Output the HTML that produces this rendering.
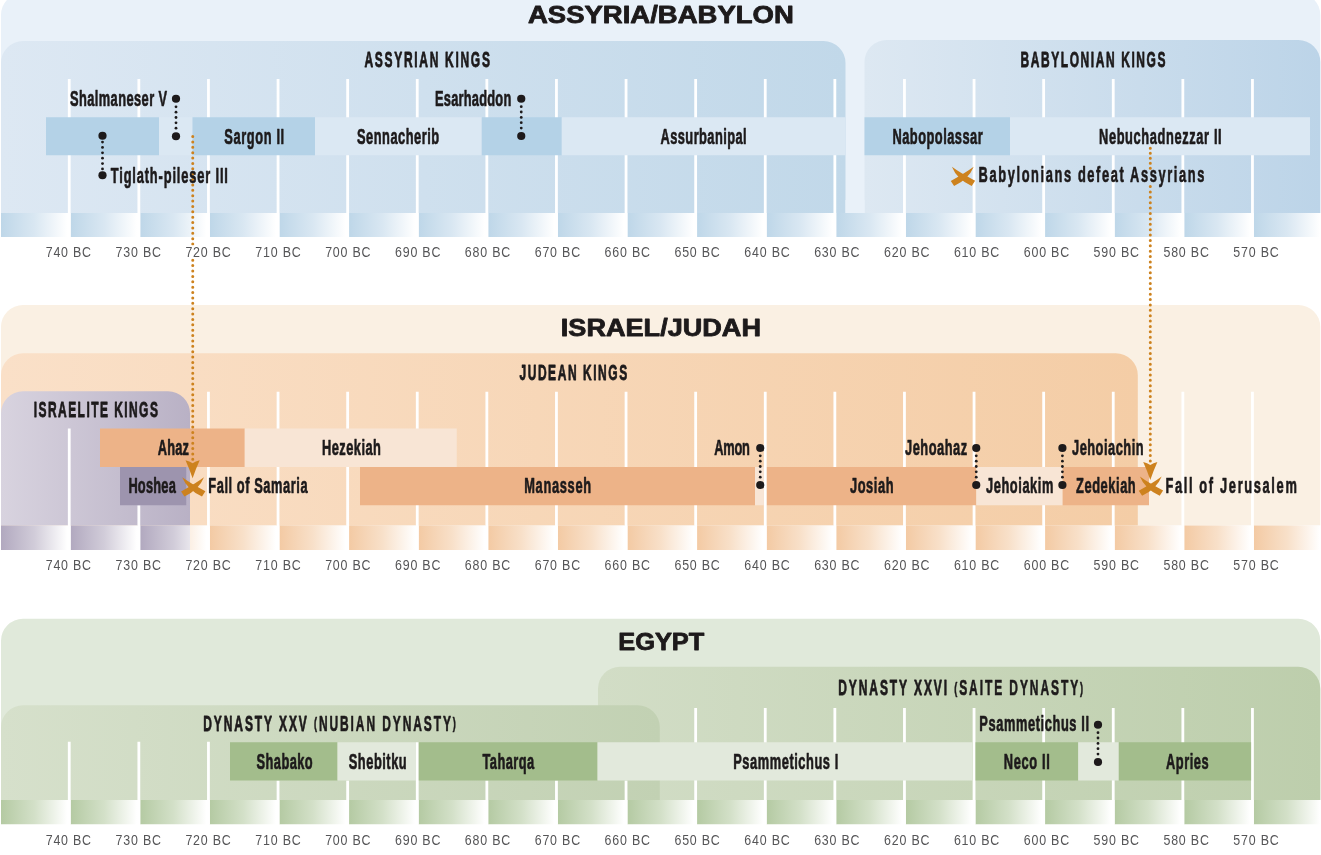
<!DOCTYPE html>
<html lang="en"><head><meta charset="utf-8"><title>Timeline: Assyria/Babylon, Israel/Judah, Egypt</title>
<style>
html,body{margin:0;padding:0;background:#fff;}
body{width:1321px;height:855px;overflow:hidden;font-family:"Liberation Sans",sans-serif;}
svg{display:block;will-change:transform;}
text{font-family:"Liberation Sans",sans-serif;}
.c{font-weight:bold;fill:#1d1a1b;stroke:#1d1a1b;stroke-width:0.55px;stroke-linejoin:round;vector-effect:non-scaling-stroke;}
.h{stroke-width:0.65px;}
.t{font-weight:bold;fill:#1d1a1b;stroke:#1d1a1b;stroke-width:0.8px;stroke-linejoin:round;}
.p{font-size:16.5px;}
.yl{font-size:14.1px;fill:#555557;}
.dl{stroke:#1d1a1b;stroke-width:2.5;stroke-dasharray:2.5 2.9;}
.ol{stroke:#cd821e;stroke-width:3;stroke-linecap:round;fill:none;}
</style></head>
<body>
<svg width="1321" height="855" viewBox="0 0 1321 855">
<defs><linearGradient id="gA" gradientUnits="userSpaceOnUse" x1="1" y1="0" x2="845.5" y2="0"><stop offset="0" stop-color="#dde8f3"/><stop offset="1" stop-color="#c1d8e9"/></linearGradient>
<linearGradient id="gB" gradientUnits="userSpaceOnUse" x1="864.5" y1="0" x2="1321" y2="0"><stop offset="0" stop-color="#dde8f2"/><stop offset="1" stop-color="#bcd4e8"/></linearGradient>
<linearGradient id="s1_0" gradientUnits="userSpaceOnUse" x1="-0.35" y1="0" x2="69.25" y2="0"><stop offset="0" stop-color="#bdd6e8"/><stop offset="0.5" stop-color="#d9e7f2"/><stop offset="0.97" stop-color="#ffffff"/><stop offset="1" stop-color="#ffffff"/></linearGradient>
<linearGradient id="s1_1" gradientUnits="userSpaceOnUse" x1="69.25" y1="0" x2="138.85" y2="0"><stop offset="0" stop-color="#bdd6e8"/><stop offset="0.5" stop-color="#d9e7f2"/><stop offset="0.97" stop-color="#ffffff"/><stop offset="1" stop-color="#ffffff"/></linearGradient>
<linearGradient id="s1_2" gradientUnits="userSpaceOnUse" x1="138.85" y1="0" x2="208.45" y2="0"><stop offset="0" stop-color="#bdd6e8"/><stop offset="0.5" stop-color="#d9e7f2"/><stop offset="0.97" stop-color="#ffffff"/><stop offset="1" stop-color="#ffffff"/></linearGradient>
<linearGradient id="s1_3" gradientUnits="userSpaceOnUse" x1="208.45" y1="0" x2="278.05" y2="0"><stop offset="0" stop-color="#bdd6e8"/><stop offset="0.5" stop-color="#d9e7f2"/><stop offset="0.97" stop-color="#ffffff"/><stop offset="1" stop-color="#ffffff"/></linearGradient>
<linearGradient id="s1_4" gradientUnits="userSpaceOnUse" x1="278.05" y1="0" x2="347.65" y2="0"><stop offset="0" stop-color="#bdd6e8"/><stop offset="0.5" stop-color="#d9e7f2"/><stop offset="0.97" stop-color="#ffffff"/><stop offset="1" stop-color="#ffffff"/></linearGradient>
<linearGradient id="s1_5" gradientUnits="userSpaceOnUse" x1="347.65" y1="0" x2="417.25" y2="0"><stop offset="0" stop-color="#bdd6e8"/><stop offset="0.5" stop-color="#d9e7f2"/><stop offset="0.97" stop-color="#ffffff"/><stop offset="1" stop-color="#ffffff"/></linearGradient>
<linearGradient id="s1_6" gradientUnits="userSpaceOnUse" x1="417.25" y1="0" x2="486.85" y2="0"><stop offset="0" stop-color="#bdd6e8"/><stop offset="0.5" stop-color="#d9e7f2"/><stop offset="0.97" stop-color="#ffffff"/><stop offset="1" stop-color="#ffffff"/></linearGradient>
<linearGradient id="s1_7" gradientUnits="userSpaceOnUse" x1="486.85" y1="0" x2="556.45" y2="0"><stop offset="0" stop-color="#bdd6e8"/><stop offset="0.5" stop-color="#d9e7f2"/><stop offset="0.97" stop-color="#ffffff"/><stop offset="1" stop-color="#ffffff"/></linearGradient>
<linearGradient id="s1_8" gradientUnits="userSpaceOnUse" x1="556.45" y1="0" x2="626.05" y2="0"><stop offset="0" stop-color="#bdd6e8"/><stop offset="0.5" stop-color="#d9e7f2"/><stop offset="0.97" stop-color="#ffffff"/><stop offset="1" stop-color="#ffffff"/></linearGradient>
<linearGradient id="s1_9" gradientUnits="userSpaceOnUse" x1="626.05" y1="0" x2="695.65" y2="0"><stop offset="0" stop-color="#bdd6e8"/><stop offset="0.5" stop-color="#d9e7f2"/><stop offset="0.97" stop-color="#ffffff"/><stop offset="1" stop-color="#ffffff"/></linearGradient>
<linearGradient id="s1_10" gradientUnits="userSpaceOnUse" x1="695.65" y1="0" x2="765.25" y2="0"><stop offset="0" stop-color="#bdd6e8"/><stop offset="0.5" stop-color="#d9e7f2"/><stop offset="0.97" stop-color="#ffffff"/><stop offset="1" stop-color="#ffffff"/></linearGradient>
<linearGradient id="s1_11" gradientUnits="userSpaceOnUse" x1="765.25" y1="0" x2="834.85" y2="0"><stop offset="0" stop-color="#bdd6e8"/><stop offset="0.5" stop-color="#d9e7f2"/><stop offset="0.97" stop-color="#ffffff"/><stop offset="1" stop-color="#ffffff"/></linearGradient>
<linearGradient id="s1_12" gradientUnits="userSpaceOnUse" x1="834.85" y1="0" x2="904.45" y2="0"><stop offset="0" stop-color="#bdd6e8"/><stop offset="0.5" stop-color="#d9e7f2"/><stop offset="0.97" stop-color="#ffffff"/><stop offset="1" stop-color="#ffffff"/></linearGradient>
<linearGradient id="s1_13" gradientUnits="userSpaceOnUse" x1="904.45" y1="0" x2="974.05" y2="0"><stop offset="0" stop-color="#bdd6e8"/><stop offset="0.5" stop-color="#d9e7f2"/><stop offset="0.97" stop-color="#ffffff"/><stop offset="1" stop-color="#ffffff"/></linearGradient>
<linearGradient id="s1_14" gradientUnits="userSpaceOnUse" x1="974.05" y1="0" x2="1043.65" y2="0"><stop offset="0" stop-color="#bdd6e8"/><stop offset="0.5" stop-color="#d9e7f2"/><stop offset="0.97" stop-color="#ffffff"/><stop offset="1" stop-color="#ffffff"/></linearGradient>
<linearGradient id="s1_15" gradientUnits="userSpaceOnUse" x1="1043.65" y1="0" x2="1113.25" y2="0"><stop offset="0" stop-color="#bdd6e8"/><stop offset="0.5" stop-color="#d9e7f2"/><stop offset="0.97" stop-color="#ffffff"/><stop offset="1" stop-color="#ffffff"/></linearGradient>
<linearGradient id="s1_16" gradientUnits="userSpaceOnUse" x1="1113.25" y1="0" x2="1182.85" y2="0"><stop offset="0" stop-color="#bdd6e8"/><stop offset="0.5" stop-color="#d9e7f2"/><stop offset="0.97" stop-color="#ffffff"/><stop offset="1" stop-color="#ffffff"/></linearGradient>
<linearGradient id="s1_17" gradientUnits="userSpaceOnUse" x1="1182.85" y1="0" x2="1252.45" y2="0"><stop offset="0" stop-color="#bdd6e8"/><stop offset="0.5" stop-color="#d9e7f2"/><stop offset="0.97" stop-color="#ffffff"/><stop offset="1" stop-color="#ffffff"/></linearGradient>
<linearGradient id="s1_18" gradientUnits="userSpaceOnUse" x1="1252.45" y1="0" x2="1322.05" y2="0"><stop offset="0" stop-color="#bdd6e8"/><stop offset="0.5" stop-color="#d9e7f2"/><stop offset="0.97" stop-color="#ffffff"/><stop offset="1" stop-color="#ffffff"/></linearGradient>
<linearGradient id="gJ" gradientUnits="userSpaceOnUse" x1="1" y1="0" x2="1137.8" y2="0"><stop offset="0" stop-color="#fae0c8"/><stop offset="1" stop-color="#f4cda6"/></linearGradient>
<linearGradient id="gI" gradientUnits="userSpaceOnUse" x1="1" y1="0" x2="190" y2="0"><stop offset="0" stop-color="#d8d3df"/><stop offset="1" stop-color="#b9b1c5"/></linearGradient>
<linearGradient id="s2_0" gradientUnits="userSpaceOnUse" x1="-0.35" y1="0" x2="69.25" y2="0"><stop offset="0" stop-color="#f3c9a2"/><stop offset="0.5" stop-color="#f8e0c9"/><stop offset="0.97" stop-color="#ffffff"/><stop offset="1" stop-color="#ffffff"/></linearGradient>
<linearGradient id="s2_1" gradientUnits="userSpaceOnUse" x1="69.25" y1="0" x2="138.85" y2="0"><stop offset="0" stop-color="#f3c9a2"/><stop offset="0.5" stop-color="#f8e0c9"/><stop offset="0.97" stop-color="#ffffff"/><stop offset="1" stop-color="#ffffff"/></linearGradient>
<linearGradient id="s2_2" gradientUnits="userSpaceOnUse" x1="138.85" y1="0" x2="208.45" y2="0"><stop offset="0" stop-color="#f3c9a2"/><stop offset="0.5" stop-color="#f8e0c9"/><stop offset="0.97" stop-color="#ffffff"/><stop offset="1" stop-color="#ffffff"/></linearGradient>
<linearGradient id="s2_3" gradientUnits="userSpaceOnUse" x1="208.45" y1="0" x2="278.05" y2="0"><stop offset="0" stop-color="#f3c9a2"/><stop offset="0.5" stop-color="#f8e0c9"/><stop offset="0.97" stop-color="#ffffff"/><stop offset="1" stop-color="#ffffff"/></linearGradient>
<linearGradient id="s2_4" gradientUnits="userSpaceOnUse" x1="278.05" y1="0" x2="347.65" y2="0"><stop offset="0" stop-color="#f3c9a2"/><stop offset="0.5" stop-color="#f8e0c9"/><stop offset="0.97" stop-color="#ffffff"/><stop offset="1" stop-color="#ffffff"/></linearGradient>
<linearGradient id="s2_5" gradientUnits="userSpaceOnUse" x1="347.65" y1="0" x2="417.25" y2="0"><stop offset="0" stop-color="#f3c9a2"/><stop offset="0.5" stop-color="#f8e0c9"/><stop offset="0.97" stop-color="#ffffff"/><stop offset="1" stop-color="#ffffff"/></linearGradient>
<linearGradient id="s2_6" gradientUnits="userSpaceOnUse" x1="417.25" y1="0" x2="486.85" y2="0"><stop offset="0" stop-color="#f3c9a2"/><stop offset="0.5" stop-color="#f8e0c9"/><stop offset="0.97" stop-color="#ffffff"/><stop offset="1" stop-color="#ffffff"/></linearGradient>
<linearGradient id="s2_7" gradientUnits="userSpaceOnUse" x1="486.85" y1="0" x2="556.45" y2="0"><stop offset="0" stop-color="#f3c9a2"/><stop offset="0.5" stop-color="#f8e0c9"/><stop offset="0.97" stop-color="#ffffff"/><stop offset="1" stop-color="#ffffff"/></linearGradient>
<linearGradient id="s2_8" gradientUnits="userSpaceOnUse" x1="556.45" y1="0" x2="626.05" y2="0"><stop offset="0" stop-color="#f3c9a2"/><stop offset="0.5" stop-color="#f8e0c9"/><stop offset="0.97" stop-color="#ffffff"/><stop offset="1" stop-color="#ffffff"/></linearGradient>
<linearGradient id="s2_9" gradientUnits="userSpaceOnUse" x1="626.05" y1="0" x2="695.65" y2="0"><stop offset="0" stop-color="#f3c9a2"/><stop offset="0.5" stop-color="#f8e0c9"/><stop offset="0.97" stop-color="#ffffff"/><stop offset="1" stop-color="#ffffff"/></linearGradient>
<linearGradient id="s2_10" gradientUnits="userSpaceOnUse" x1="695.65" y1="0" x2="765.25" y2="0"><stop offset="0" stop-color="#f3c9a2"/><stop offset="0.5" stop-color="#f8e0c9"/><stop offset="0.97" stop-color="#ffffff"/><stop offset="1" stop-color="#ffffff"/></linearGradient>
<linearGradient id="s2_11" gradientUnits="userSpaceOnUse" x1="765.25" y1="0" x2="834.85" y2="0"><stop offset="0" stop-color="#f3c9a2"/><stop offset="0.5" stop-color="#f8e0c9"/><stop offset="0.97" stop-color="#ffffff"/><stop offset="1" stop-color="#ffffff"/></linearGradient>
<linearGradient id="s2_12" gradientUnits="userSpaceOnUse" x1="834.85" y1="0" x2="904.45" y2="0"><stop offset="0" stop-color="#f3c9a2"/><stop offset="0.5" stop-color="#f8e0c9"/><stop offset="0.97" stop-color="#ffffff"/><stop offset="1" stop-color="#ffffff"/></linearGradient>
<linearGradient id="s2_13" gradientUnits="userSpaceOnUse" x1="904.45" y1="0" x2="974.05" y2="0"><stop offset="0" stop-color="#f3c9a2"/><stop offset="0.5" stop-color="#f8e0c9"/><stop offset="0.97" stop-color="#ffffff"/><stop offset="1" stop-color="#ffffff"/></linearGradient>
<linearGradient id="s2_14" gradientUnits="userSpaceOnUse" x1="974.05" y1="0" x2="1043.65" y2="0"><stop offset="0" stop-color="#f3c9a2"/><stop offset="0.5" stop-color="#f8e0c9"/><stop offset="0.97" stop-color="#ffffff"/><stop offset="1" stop-color="#ffffff"/></linearGradient>
<linearGradient id="s2_15" gradientUnits="userSpaceOnUse" x1="1043.65" y1="0" x2="1113.25" y2="0"><stop offset="0" stop-color="#f3c9a2"/><stop offset="0.5" stop-color="#f8e0c9"/><stop offset="0.97" stop-color="#ffffff"/><stop offset="1" stop-color="#ffffff"/></linearGradient>
<linearGradient id="s2_16" gradientUnits="userSpaceOnUse" x1="1113.25" y1="0" x2="1182.85" y2="0"><stop offset="0" stop-color="#f3c9a2"/><stop offset="0.5" stop-color="#f8e0c9"/><stop offset="0.97" stop-color="#ffffff"/><stop offset="1" stop-color="#ffffff"/></linearGradient>
<linearGradient id="s2_17" gradientUnits="userSpaceOnUse" x1="1182.85" y1="0" x2="1252.45" y2="0"><stop offset="0" stop-color="#f3c9a2"/><stop offset="0.5" stop-color="#f8e0c9"/><stop offset="0.97" stop-color="#ffffff"/><stop offset="1" stop-color="#ffffff"/></linearGradient>
<linearGradient id="s2_18" gradientUnits="userSpaceOnUse" x1="1252.45" y1="0" x2="1322.05" y2="0"><stop offset="0" stop-color="#f3c9a2"/><stop offset="0.5" stop-color="#f8e0c9"/><stop offset="0.97" stop-color="#ffffff"/><stop offset="1" stop-color="#ffffff"/></linearGradient>
<linearGradient id="s2p_0" gradientUnits="userSpaceOnUse" x1="-0.35" y1="0" x2="69.25" y2="0"><stop offset="0" stop-color="#b0a7be"/><stop offset="0.5" stop-color="#d1ccd9"/><stop offset="0.97" stop-color="#ffffff"/><stop offset="1" stop-color="#ffffff"/></linearGradient>
<linearGradient id="s2p_1" gradientUnits="userSpaceOnUse" x1="69.25" y1="0" x2="138.85" y2="0"><stop offset="0" stop-color="#b0a7be"/><stop offset="0.5" stop-color="#d1ccd9"/><stop offset="0.97" stop-color="#ffffff"/><stop offset="1" stop-color="#ffffff"/></linearGradient>
<linearGradient id="s2p_2" gradientUnits="userSpaceOnUse" x1="138.85" y1="0" x2="208.45" y2="0"><stop offset="0" stop-color="#b0a7be"/><stop offset="0.5" stop-color="#d1ccd9"/><stop offset="0.97" stop-color="#ffffff"/><stop offset="1" stop-color="#ffffff"/></linearGradient>
<linearGradient id="s2p_3" gradientUnits="userSpaceOnUse" x1="208.45" y1="0" x2="278.05" y2="0"><stop offset="0" stop-color="#b0a7be"/><stop offset="0.5" stop-color="#d1ccd9"/><stop offset="0.97" stop-color="#ffffff"/><stop offset="1" stop-color="#ffffff"/></linearGradient>
<linearGradient id="s2p_4" gradientUnits="userSpaceOnUse" x1="278.05" y1="0" x2="347.65" y2="0"><stop offset="0" stop-color="#b0a7be"/><stop offset="0.5" stop-color="#d1ccd9"/><stop offset="0.97" stop-color="#ffffff"/><stop offset="1" stop-color="#ffffff"/></linearGradient>
<linearGradient id="s2p_5" gradientUnits="userSpaceOnUse" x1="347.65" y1="0" x2="417.25" y2="0"><stop offset="0" stop-color="#b0a7be"/><stop offset="0.5" stop-color="#d1ccd9"/><stop offset="0.97" stop-color="#ffffff"/><stop offset="1" stop-color="#ffffff"/></linearGradient>
<linearGradient id="s2p_6" gradientUnits="userSpaceOnUse" x1="417.25" y1="0" x2="486.85" y2="0"><stop offset="0" stop-color="#b0a7be"/><stop offset="0.5" stop-color="#d1ccd9"/><stop offset="0.97" stop-color="#ffffff"/><stop offset="1" stop-color="#ffffff"/></linearGradient>
<linearGradient id="s2p_7" gradientUnits="userSpaceOnUse" x1="486.85" y1="0" x2="556.45" y2="0"><stop offset="0" stop-color="#b0a7be"/><stop offset="0.5" stop-color="#d1ccd9"/><stop offset="0.97" stop-color="#ffffff"/><stop offset="1" stop-color="#ffffff"/></linearGradient>
<linearGradient id="s2p_8" gradientUnits="userSpaceOnUse" x1="556.45" y1="0" x2="626.05" y2="0"><stop offset="0" stop-color="#b0a7be"/><stop offset="0.5" stop-color="#d1ccd9"/><stop offset="0.97" stop-color="#ffffff"/><stop offset="1" stop-color="#ffffff"/></linearGradient>
<linearGradient id="s2p_9" gradientUnits="userSpaceOnUse" x1="626.05" y1="0" x2="695.65" y2="0"><stop offset="0" stop-color="#b0a7be"/><stop offset="0.5" stop-color="#d1ccd9"/><stop offset="0.97" stop-color="#ffffff"/><stop offset="1" stop-color="#ffffff"/></linearGradient>
<linearGradient id="s2p_10" gradientUnits="userSpaceOnUse" x1="695.65" y1="0" x2="765.25" y2="0"><stop offset="0" stop-color="#b0a7be"/><stop offset="0.5" stop-color="#d1ccd9"/><stop offset="0.97" stop-color="#ffffff"/><stop offset="1" stop-color="#ffffff"/></linearGradient>
<linearGradient id="s2p_11" gradientUnits="userSpaceOnUse" x1="765.25" y1="0" x2="834.85" y2="0"><stop offset="0" stop-color="#b0a7be"/><stop offset="0.5" stop-color="#d1ccd9"/><stop offset="0.97" stop-color="#ffffff"/><stop offset="1" stop-color="#ffffff"/></linearGradient>
<linearGradient id="s2p_12" gradientUnits="userSpaceOnUse" x1="834.85" y1="0" x2="904.45" y2="0"><stop offset="0" stop-color="#b0a7be"/><stop offset="0.5" stop-color="#d1ccd9"/><stop offset="0.97" stop-color="#ffffff"/><stop offset="1" stop-color="#ffffff"/></linearGradient>
<linearGradient id="s2p_13" gradientUnits="userSpaceOnUse" x1="904.45" y1="0" x2="974.05" y2="0"><stop offset="0" stop-color="#b0a7be"/><stop offset="0.5" stop-color="#d1ccd9"/><stop offset="0.97" stop-color="#ffffff"/><stop offset="1" stop-color="#ffffff"/></linearGradient>
<linearGradient id="s2p_14" gradientUnits="userSpaceOnUse" x1="974.05" y1="0" x2="1043.65" y2="0"><stop offset="0" stop-color="#b0a7be"/><stop offset="0.5" stop-color="#d1ccd9"/><stop offset="0.97" stop-color="#ffffff"/><stop offset="1" stop-color="#ffffff"/></linearGradient>
<linearGradient id="s2p_15" gradientUnits="userSpaceOnUse" x1="1043.65" y1="0" x2="1113.25" y2="0"><stop offset="0" stop-color="#b0a7be"/><stop offset="0.5" stop-color="#d1ccd9"/><stop offset="0.97" stop-color="#ffffff"/><stop offset="1" stop-color="#ffffff"/></linearGradient>
<linearGradient id="s2p_16" gradientUnits="userSpaceOnUse" x1="1113.25" y1="0" x2="1182.85" y2="0"><stop offset="0" stop-color="#b0a7be"/><stop offset="0.5" stop-color="#d1ccd9"/><stop offset="0.97" stop-color="#ffffff"/><stop offset="1" stop-color="#ffffff"/></linearGradient>
<linearGradient id="s2p_17" gradientUnits="userSpaceOnUse" x1="1182.85" y1="0" x2="1252.45" y2="0"><stop offset="0" stop-color="#b0a7be"/><stop offset="0.5" stop-color="#d1ccd9"/><stop offset="0.97" stop-color="#ffffff"/><stop offset="1" stop-color="#ffffff"/></linearGradient>
<linearGradient id="s2p_18" gradientUnits="userSpaceOnUse" x1="1252.45" y1="0" x2="1322.05" y2="0"><stop offset="0" stop-color="#b0a7be"/><stop offset="0.5" stop-color="#d1ccd9"/><stop offset="0.97" stop-color="#ffffff"/><stop offset="1" stop-color="#ffffff"/></linearGradient>
<linearGradient id="gS" gradientUnits="userSpaceOnUse" x1="598" y1="0" x2="1321" y2="0"><stop offset="0" stop-color="#d2ddc6"/><stop offset="1" stop-color="#bdceac"/></linearGradient>
<linearGradient id="gN" gradientUnits="userSpaceOnUse" x1="1" y1="0" x2="659.8" y2="0"><stop offset="0" stop-color="#d6e0cb"/><stop offset="1" stop-color="#c2d1b3"/></linearGradient>
<linearGradient id="s3_0" gradientUnits="userSpaceOnUse" x1="-0.35" y1="0" x2="69.25" y2="0"><stop offset="0" stop-color="#b3c9a1"/><stop offset="0.5" stop-color="#d3e0c8"/><stop offset="0.97" stop-color="#ffffff"/><stop offset="1" stop-color="#ffffff"/></linearGradient>
<linearGradient id="s3_1" gradientUnits="userSpaceOnUse" x1="69.25" y1="0" x2="138.85" y2="0"><stop offset="0" stop-color="#b3c9a1"/><stop offset="0.5" stop-color="#d3e0c8"/><stop offset="0.97" stop-color="#ffffff"/><stop offset="1" stop-color="#ffffff"/></linearGradient>
<linearGradient id="s3_2" gradientUnits="userSpaceOnUse" x1="138.85" y1="0" x2="208.45" y2="0"><stop offset="0" stop-color="#b3c9a1"/><stop offset="0.5" stop-color="#d3e0c8"/><stop offset="0.97" stop-color="#ffffff"/><stop offset="1" stop-color="#ffffff"/></linearGradient>
<linearGradient id="s3_3" gradientUnits="userSpaceOnUse" x1="208.45" y1="0" x2="278.05" y2="0"><stop offset="0" stop-color="#b3c9a1"/><stop offset="0.5" stop-color="#d3e0c8"/><stop offset="0.97" stop-color="#ffffff"/><stop offset="1" stop-color="#ffffff"/></linearGradient>
<linearGradient id="s3_4" gradientUnits="userSpaceOnUse" x1="278.05" y1="0" x2="347.65" y2="0"><stop offset="0" stop-color="#b3c9a1"/><stop offset="0.5" stop-color="#d3e0c8"/><stop offset="0.97" stop-color="#ffffff"/><stop offset="1" stop-color="#ffffff"/></linearGradient>
<linearGradient id="s3_5" gradientUnits="userSpaceOnUse" x1="347.65" y1="0" x2="417.25" y2="0"><stop offset="0" stop-color="#b3c9a1"/><stop offset="0.5" stop-color="#d3e0c8"/><stop offset="0.97" stop-color="#ffffff"/><stop offset="1" stop-color="#ffffff"/></linearGradient>
<linearGradient id="s3_6" gradientUnits="userSpaceOnUse" x1="417.25" y1="0" x2="486.85" y2="0"><stop offset="0" stop-color="#b3c9a1"/><stop offset="0.5" stop-color="#d3e0c8"/><stop offset="0.97" stop-color="#ffffff"/><stop offset="1" stop-color="#ffffff"/></linearGradient>
<linearGradient id="s3_7" gradientUnits="userSpaceOnUse" x1="486.85" y1="0" x2="556.45" y2="0"><stop offset="0" stop-color="#b3c9a1"/><stop offset="0.5" stop-color="#d3e0c8"/><stop offset="0.97" stop-color="#ffffff"/><stop offset="1" stop-color="#ffffff"/></linearGradient>
<linearGradient id="s3_8" gradientUnits="userSpaceOnUse" x1="556.45" y1="0" x2="626.05" y2="0"><stop offset="0" stop-color="#b3c9a1"/><stop offset="0.5" stop-color="#d3e0c8"/><stop offset="0.97" stop-color="#ffffff"/><stop offset="1" stop-color="#ffffff"/></linearGradient>
<linearGradient id="s3_9" gradientUnits="userSpaceOnUse" x1="626.05" y1="0" x2="695.65" y2="0"><stop offset="0" stop-color="#b3c9a1"/><stop offset="0.5" stop-color="#d3e0c8"/><stop offset="0.97" stop-color="#ffffff"/><stop offset="1" stop-color="#ffffff"/></linearGradient>
<linearGradient id="s3_10" gradientUnits="userSpaceOnUse" x1="695.65" y1="0" x2="765.25" y2="0"><stop offset="0" stop-color="#b3c9a1"/><stop offset="0.5" stop-color="#d3e0c8"/><stop offset="0.97" stop-color="#ffffff"/><stop offset="1" stop-color="#ffffff"/></linearGradient>
<linearGradient id="s3_11" gradientUnits="userSpaceOnUse" x1="765.25" y1="0" x2="834.85" y2="0"><stop offset="0" stop-color="#b3c9a1"/><stop offset="0.5" stop-color="#d3e0c8"/><stop offset="0.97" stop-color="#ffffff"/><stop offset="1" stop-color="#ffffff"/></linearGradient>
<linearGradient id="s3_12" gradientUnits="userSpaceOnUse" x1="834.85" y1="0" x2="904.45" y2="0"><stop offset="0" stop-color="#b3c9a1"/><stop offset="0.5" stop-color="#d3e0c8"/><stop offset="0.97" stop-color="#ffffff"/><stop offset="1" stop-color="#ffffff"/></linearGradient>
<linearGradient id="s3_13" gradientUnits="userSpaceOnUse" x1="904.45" y1="0" x2="974.05" y2="0"><stop offset="0" stop-color="#b3c9a1"/><stop offset="0.5" stop-color="#d3e0c8"/><stop offset="0.97" stop-color="#ffffff"/><stop offset="1" stop-color="#ffffff"/></linearGradient>
<linearGradient id="s3_14" gradientUnits="userSpaceOnUse" x1="974.05" y1="0" x2="1043.65" y2="0"><stop offset="0" stop-color="#b3c9a1"/><stop offset="0.5" stop-color="#d3e0c8"/><stop offset="0.97" stop-color="#ffffff"/><stop offset="1" stop-color="#ffffff"/></linearGradient>
<linearGradient id="s3_15" gradientUnits="userSpaceOnUse" x1="1043.65" y1="0" x2="1113.25" y2="0"><stop offset="0" stop-color="#b3c9a1"/><stop offset="0.5" stop-color="#d3e0c8"/><stop offset="0.97" stop-color="#ffffff"/><stop offset="1" stop-color="#ffffff"/></linearGradient>
<linearGradient id="s3_16" gradientUnits="userSpaceOnUse" x1="1113.25" y1="0" x2="1182.85" y2="0"><stop offset="0" stop-color="#b3c9a1"/><stop offset="0.5" stop-color="#d3e0c8"/><stop offset="0.97" stop-color="#ffffff"/><stop offset="1" stop-color="#ffffff"/></linearGradient>
<linearGradient id="s3_17" gradientUnits="userSpaceOnUse" x1="1182.85" y1="0" x2="1252.45" y2="0"><stop offset="0" stop-color="#b3c9a1"/><stop offset="0.5" stop-color="#d3e0c8"/><stop offset="0.97" stop-color="#ffffff"/><stop offset="1" stop-color="#ffffff"/></linearGradient>
<linearGradient id="s3_18" gradientUnits="userSpaceOnUse" x1="1252.45" y1="0" x2="1322.05" y2="0"><stop offset="0" stop-color="#b3c9a1"/><stop offset="0.5" stop-color="#d3e0c8"/><stop offset="0.97" stop-color="#ffffff"/><stop offset="1" stop-color="#ffffff"/></linearGradient></defs>
<path d="M1,213 L1,15 A22,22 0 0 1 23,-7 L1298.3,-7 A22,22 0 0 1 1320.3,15 L1320.3,213 Z" fill="#e9f1f9"/>
<path d="M1,213 L1,63 A22,22 0 0 1 23,41 L823.5,41 A22,22 0 0 1 845.5,63 L845.5,213 Z" fill="url(#gA)"/>
<path d="M864.5,213 L864.5,62 A22,22 0 0 1 886.5,40 L1298.3,40 A22,22 0 0 1 1320.3,62 L1320.3,213 Z" fill="url(#gB)"/>
<rect x="845.5" y="200" width="19" height="13" fill="#e9f1f9"/>
<rect x="1" y="213" width="66.85" height="24" fill="url(#s1_0)"/>
<rect x="70.65" y="213" width="66.8" height="24" fill="url(#s1_1)"/>
<rect x="140.25" y="213" width="66.8" height="24" fill="url(#s1_2)"/>
<rect x="209.85" y="213" width="66.8" height="24" fill="url(#s1_3)"/>
<rect x="279.45" y="213" width="66.8" height="24" fill="url(#s1_4)"/>
<rect x="349.05" y="213" width="66.8" height="24" fill="url(#s1_5)"/>
<rect x="418.65" y="213" width="66.8" height="24" fill="url(#s1_6)"/>
<rect x="488.25" y="213" width="66.8" height="24" fill="url(#s1_7)"/>
<rect x="557.85" y="213" width="66.8" height="24" fill="url(#s1_8)"/>
<rect x="627.45" y="213" width="66.8" height="24" fill="url(#s1_9)"/>
<rect x="697.05" y="213" width="66.8" height="24" fill="url(#s1_10)"/>
<rect x="766.65" y="213" width="66.8" height="24" fill="url(#s1_11)"/>
<rect x="836.25" y="213" width="66.8" height="24" fill="url(#s1_12)"/>
<rect x="905.85" y="213" width="66.8" height="24" fill="url(#s1_13)"/>
<rect x="975.45" y="213" width="66.8" height="24" fill="url(#s1_14)"/>
<rect x="1045.05" y="213" width="66.8" height="24" fill="url(#s1_15)"/>
<rect x="1114.65" y="213" width="66.8" height="24" fill="url(#s1_16)"/>
<rect x="1184.25" y="213" width="66.8" height="24" fill="url(#s1_17)"/>
<rect x="1253.85" y="213" width="66.45" height="24" fill="url(#s1_18)"/>
<rect x="67.85" y="79" width="2.8" height="158" fill="#fff"/>
<rect x="137.45" y="79" width="2.8" height="158" fill="#fff"/>
<rect x="207.05" y="79" width="2.8" height="158" fill="#fff"/>
<rect x="276.65" y="79" width="2.8" height="158" fill="#fff"/>
<rect x="346.25" y="79" width="2.8" height="158" fill="#fff"/>
<rect x="415.85" y="79" width="2.8" height="158" fill="#fff"/>
<rect x="485.45" y="79" width="2.8" height="158" fill="#fff"/>
<rect x="555.05" y="79" width="2.8" height="158" fill="#fff"/>
<rect x="624.65" y="79" width="2.8" height="158" fill="#fff"/>
<rect x="694.25" y="79" width="2.8" height="158" fill="#fff"/>
<rect x="763.85" y="79" width="2.8" height="158" fill="#fff"/>
<rect x="833.45" y="79" width="2.8" height="158" fill="#fff"/>
<rect x="903.05" y="79" width="2.8" height="158" fill="#fff"/>
<rect x="972.65" y="79" width="2.8" height="158" fill="#fff"/>
<rect x="1042.25" y="79" width="2.8" height="158" fill="#fff"/>
<rect x="1111.85" y="79" width="2.8" height="158" fill="#fff"/>
<rect x="1181.45" y="79" width="2.8" height="158" fill="#fff"/>
<rect x="1251.05" y="79" width="2.8" height="158" fill="#fff"/>
<rect x="46" y="117.25" width="113" height="38" fill="#b4d2e7"/>
<rect x="159" y="117.25" width="33.5" height="38" fill="#dbe8f3"/>
<rect x="192.5" y="117.25" width="122.5" height="38" fill="#b4d2e7"/>
<rect x="315" y="117.25" width="166.75" height="38" fill="#dbe8f3"/>
<rect x="481.75" y="117.25" width="80" height="38" fill="#b4d2e7"/>
<rect x="561.75" y="117.25" width="283.75" height="38" fill="#dbe8f3"/>
<rect x="864.5" y="117.25" width="145.5" height="38" fill="#b4d2e7"/>
<rect x="1010" y="117.25" width="300" height="38" fill="#dbe8f3"/>
<path d="M1,525.5 L1,327 A22,22 0 0 1 23,305 L1298.3,305 A22,22 0 0 1 1320.3,327 L1320.3,525.5 Z" fill="#faf0e3"/>
<path d="M1,525.5 L1,375.25 A22,22 0 0 1 23,353.25 L1115.8,353.25 A22,22 0 0 1 1137.8,375.25 L1137.8,525.5 Z" fill="url(#gJ)"/>
<path d="M1,525.5 L1,413.25 A22,22 0 0 1 23,391.25 L168,391.25 A22,22 0 0 1 190,413.25 L190,525.5 Z" fill="url(#gI)"/>
<clipPath id="cpO"><rect x="190" y="500" width="1140" height="60"/></clipPath>
<clipPath id="cpP"><rect x="0" y="500" width="190" height="60"/></clipPath>
<rect x="1" y="525.5" width="66.85" height="24.5" fill="url(#s2_0)" clip-path="url(#cpO)"/>
<rect x="70.65" y="525.5" width="66.8" height="24.5" fill="url(#s2_1)" clip-path="url(#cpO)"/>
<rect x="140.25" y="525.5" width="66.8" height="24.5" fill="url(#s2_2)" clip-path="url(#cpO)"/>
<rect x="209.85" y="525.5" width="66.8" height="24.5" fill="url(#s2_3)" clip-path="url(#cpO)"/>
<rect x="279.45" y="525.5" width="66.8" height="24.5" fill="url(#s2_4)" clip-path="url(#cpO)"/>
<rect x="349.05" y="525.5" width="66.8" height="24.5" fill="url(#s2_5)" clip-path="url(#cpO)"/>
<rect x="418.65" y="525.5" width="66.8" height="24.5" fill="url(#s2_6)" clip-path="url(#cpO)"/>
<rect x="488.25" y="525.5" width="66.8" height="24.5" fill="url(#s2_7)" clip-path="url(#cpO)"/>
<rect x="557.85" y="525.5" width="66.8" height="24.5" fill="url(#s2_8)" clip-path="url(#cpO)"/>
<rect x="627.45" y="525.5" width="66.8" height="24.5" fill="url(#s2_9)" clip-path="url(#cpO)"/>
<rect x="697.05" y="525.5" width="66.8" height="24.5" fill="url(#s2_10)" clip-path="url(#cpO)"/>
<rect x="766.65" y="525.5" width="66.8" height="24.5" fill="url(#s2_11)" clip-path="url(#cpO)"/>
<rect x="836.25" y="525.5" width="66.8" height="24.5" fill="url(#s2_12)" clip-path="url(#cpO)"/>
<rect x="905.85" y="525.5" width="66.8" height="24.5" fill="url(#s2_13)" clip-path="url(#cpO)"/>
<rect x="975.45" y="525.5" width="66.8" height="24.5" fill="url(#s2_14)" clip-path="url(#cpO)"/>
<rect x="1045.05" y="525.5" width="66.8" height="24.5" fill="url(#s2_15)" clip-path="url(#cpO)"/>
<rect x="1114.65" y="525.5" width="66.8" height="24.5" fill="url(#s2_16)" clip-path="url(#cpO)"/>
<rect x="1184.25" y="525.5" width="66.8" height="24.5" fill="url(#s2_17)" clip-path="url(#cpO)"/>
<rect x="1253.85" y="525.5" width="66.45" height="24.5" fill="url(#s2_18)" clip-path="url(#cpO)"/>
<rect x="1" y="525.5" width="66.85" height="24.5" fill="url(#s2p_0)" clip-path="url(#cpP)"/>
<rect x="70.65" y="525.5" width="66.8" height="24.5" fill="url(#s2p_1)" clip-path="url(#cpP)"/>
<rect x="140.25" y="525.5" width="66.8" height="24.5" fill="url(#s2p_2)" clip-path="url(#cpP)"/>
<rect x="209.85" y="525.5" width="66.8" height="24.5" fill="url(#s2p_3)" clip-path="url(#cpP)"/>
<rect x="279.45" y="525.5" width="66.8" height="24.5" fill="url(#s2p_4)" clip-path="url(#cpP)"/>
<rect x="349.05" y="525.5" width="66.8" height="24.5" fill="url(#s2p_5)" clip-path="url(#cpP)"/>
<rect x="418.65" y="525.5" width="66.8" height="24.5" fill="url(#s2p_6)" clip-path="url(#cpP)"/>
<rect x="488.25" y="525.5" width="66.8" height="24.5" fill="url(#s2p_7)" clip-path="url(#cpP)"/>
<rect x="557.85" y="525.5" width="66.8" height="24.5" fill="url(#s2p_8)" clip-path="url(#cpP)"/>
<rect x="627.45" y="525.5" width="66.8" height="24.5" fill="url(#s2p_9)" clip-path="url(#cpP)"/>
<rect x="697.05" y="525.5" width="66.8" height="24.5" fill="url(#s2p_10)" clip-path="url(#cpP)"/>
<rect x="766.65" y="525.5" width="66.8" height="24.5" fill="url(#s2p_11)" clip-path="url(#cpP)"/>
<rect x="836.25" y="525.5" width="66.8" height="24.5" fill="url(#s2p_12)" clip-path="url(#cpP)"/>
<rect x="905.85" y="525.5" width="66.8" height="24.5" fill="url(#s2p_13)" clip-path="url(#cpP)"/>
<rect x="975.45" y="525.5" width="66.8" height="24.5" fill="url(#s2p_14)" clip-path="url(#cpP)"/>
<rect x="1045.05" y="525.5" width="66.8" height="24.5" fill="url(#s2p_15)" clip-path="url(#cpP)"/>
<rect x="1114.65" y="525.5" width="66.8" height="24.5" fill="url(#s2p_16)" clip-path="url(#cpP)"/>
<rect x="1184.25" y="525.5" width="66.8" height="24.5" fill="url(#s2p_17)" clip-path="url(#cpP)"/>
<rect x="1253.85" y="525.5" width="66.45" height="24.5" fill="url(#s2p_18)" clip-path="url(#cpP)"/>
<rect x="67.85" y="428.5" width="2.8" height="121.5" fill="#fff"/>
<rect x="137.45" y="505.25" width="2.8" height="44.75" fill="#fff"/>
<rect x="207.05" y="391.75" width="2.8" height="158.25" fill="#fff"/>
<rect x="276.65" y="391.75" width="2.8" height="158.25" fill="#fff"/>
<rect x="346.25" y="391.75" width="2.8" height="158.25" fill="#fff"/>
<rect x="415.85" y="391.75" width="2.8" height="158.25" fill="#fff"/>
<rect x="485.45" y="391.75" width="2.8" height="158.25" fill="#fff"/>
<rect x="555.05" y="391.75" width="2.8" height="158.25" fill="#fff"/>
<rect x="624.65" y="391.75" width="2.8" height="158.25" fill="#fff"/>
<rect x="694.25" y="391.75" width="2.8" height="158.25" fill="#fff"/>
<rect x="763.85" y="391.75" width="2.8" height="158.25" fill="#fff"/>
<rect x="833.45" y="391.75" width="2.8" height="158.25" fill="#fff"/>
<rect x="903.05" y="391.75" width="2.8" height="158.25" fill="#fff"/>
<rect x="972.65" y="391.75" width="2.8" height="158.25" fill="#fff"/>
<rect x="1042.25" y="391.75" width="2.8" height="158.25" fill="#fff"/>
<rect x="1111.85" y="391.75" width="2.8" height="158.25" fill="#fff"/>
<rect x="1181.45" y="391.75" width="2.8" height="158.25" fill="#fff"/>
<rect x="1251.05" y="391.75" width="2.8" height="158.25" fill="#fff"/>
<rect x="100" y="428.5" width="144.75" height="38.5" fill="#edb388"/>
<rect x="244.75" y="428.5" width="212" height="38.5" fill="#f8e5d5"/>
<rect x="120" y="467" width="66.25" height="38.25" fill="#9d94ae"/>
<rect x="360" y="467" width="395" height="38.25" fill="#edb388"/>
<rect x="755" y="467" width="8.9" height="38.25" fill="#f8e5d5"/>
<rect x="766.9" y="467" width="209.35" height="38.25" fill="#edb388"/>
<rect x="976.25" y="467" width="86.45" height="38.25" fill="#f8e5d5"/>
<rect x="1062.7" y="467" width="86.3" height="38.25" fill="#edb388"/>
<path d="M1,800 L1,640.75 A22,22 0 0 1 23,618.75 L1298.3,618.75 A22,22 0 0 1 1320.3,640.75 L1320.3,800 Z" fill="#e0e9da"/>
<path d="M598,800 L598,688.75 A22,22 0 0 1 620,666.75 L1298.3,666.75 A22,22 0 0 1 1320.3,688.75 L1320.3,800 Z" fill="url(#gS)"/>
<path d="M1,800 L1,727.25 A22,22 0 0 1 23,705.25 L637.8,705.25 A22,22 0 0 1 659.8,727.25 L659.8,800 Z" fill="url(#gN)"/>
<rect x="1" y="800" width="66.85" height="24.25" fill="url(#s3_0)"/>
<rect x="70.65" y="800" width="66.8" height="24.25" fill="url(#s3_1)"/>
<rect x="140.25" y="800" width="66.8" height="24.25" fill="url(#s3_2)"/>
<rect x="209.85" y="800" width="66.8" height="24.25" fill="url(#s3_3)"/>
<rect x="279.45" y="800" width="66.8" height="24.25" fill="url(#s3_4)"/>
<rect x="349.05" y="800" width="66.8" height="24.25" fill="url(#s3_5)"/>
<rect x="418.65" y="800" width="66.8" height="24.25" fill="url(#s3_6)"/>
<rect x="488.25" y="800" width="66.8" height="24.25" fill="url(#s3_7)"/>
<rect x="557.85" y="800" width="66.8" height="24.25" fill="url(#s3_8)"/>
<rect x="627.45" y="800" width="66.8" height="24.25" fill="url(#s3_9)"/>
<rect x="697.05" y="800" width="66.8" height="24.25" fill="url(#s3_10)"/>
<rect x="766.65" y="800" width="66.8" height="24.25" fill="url(#s3_11)"/>
<rect x="836.25" y="800" width="66.8" height="24.25" fill="url(#s3_12)"/>
<rect x="905.85" y="800" width="66.8" height="24.25" fill="url(#s3_13)"/>
<rect x="975.45" y="800" width="66.8" height="24.25" fill="url(#s3_14)"/>
<rect x="1045.05" y="800" width="66.8" height="24.25" fill="url(#s3_15)"/>
<rect x="1114.65" y="800" width="66.8" height="24.25" fill="url(#s3_16)"/>
<rect x="1184.25" y="800" width="66.8" height="24.25" fill="url(#s3_17)"/>
<rect x="1253.85" y="800" width="66.45" height="24.25" fill="url(#s3_18)"/>
<rect x="67.85" y="741.75" width="2.8" height="82.5" fill="#fff"/>
<rect x="137.45" y="741.75" width="2.8" height="82.5" fill="#fff"/>
<rect x="207.05" y="741.75" width="2.8" height="82.5" fill="#fff"/>
<rect x="276.65" y="780.5" width="2.8" height="43.75" fill="#fff"/>
<rect x="346.25" y="780.5" width="2.8" height="43.75" fill="#fff"/>
<rect x="485.45" y="780.5" width="2.8" height="43.75" fill="#fff"/>
<rect x="555.05" y="780.5" width="2.8" height="43.75" fill="#fff"/>
<rect x="624.65" y="780.5" width="2.8" height="43.75" fill="#fff"/>
<rect x="415.85" y="742.25" width="2.8" height="82" fill="#fff"/>
<rect x="694.25" y="708" width="2.8" height="116.25" fill="#fff"/>
<rect x="763.85" y="708" width="2.8" height="116.25" fill="#fff"/>
<rect x="833.45" y="708" width="2.8" height="116.25" fill="#fff"/>
<rect x="903.05" y="708" width="2.8" height="116.25" fill="#fff"/>
<rect x="972.65" y="708" width="2.8" height="116.25" fill="#fff"/>
<rect x="1042.25" y="708" width="2.8" height="116.25" fill="#fff"/>
<rect x="1111.85" y="708" width="2.8" height="116.25" fill="#fff"/>
<rect x="1181.45" y="708" width="2.8" height="116.25" fill="#fff"/>
<rect x="1251.05" y="708" width="2.8" height="116.25" fill="#fff"/>
<rect x="230" y="742.25" width="107.5" height="38.25" fill="#a3bd8c"/>
<rect x="337.5" y="742.25" width="78.5" height="38.25" fill="#e2e9dc"/>
<rect x="418.75" y="742.25" width="178.75" height="38.25" fill="#a3bd8c"/>
<rect x="597.5" y="742.25" width="375" height="38.25" fill="#e2e9dc"/>
<rect x="975.5" y="742.25" width="102.7" height="38.25" fill="#a3bd8c"/>
<rect x="1078.2" y="742.25" width="40.6" height="38.25" fill="#e2e9dc"/>
<rect x="1118.8" y="742.25" width="132.3" height="38.25" fill="#a3bd8c"/>
<path d="M192.75,136.5 v323.1" class="ol" stroke-dasharray="0 5.38"/>
<path d="M1150.3,148.2 v20.6" class="ol" stroke-dasharray="0 5"/>
<path d="M1150.3,186.6 v274.73" class="ol" stroke-dasharray="0 5.38"/>
<rect x="186" y="245.5" width="13" height="12.7" fill="#fff"/>
<path d="M185.5,460.3 Q189.6,461.5 192.6,463.2 Q195.6,461.5 199.7,460.3 Q195.8,468.9 192.6,478.3 Q189.4,468.9 185.5,460.3 Z" fill="#cd821e"/>
<path d="M1143.2,462 Q1147.3,463.2 1150.3,464.9 Q1153.3,463.2 1157.4,462 Q1153.5,470.6 1150.3,479.9 Q1147.1,470.6 1143.2,462 Z" fill="#cd821e"/>
<g transform="translate(192.8,487.3)" fill="#cd821e">
<path d="M-10.6,-10 Q-2.2,-3.8 12.6,3.9 L9.2,9.2 Q-5.6,2.6 -10.6,-10Z"/>
<path d="M11.2,-10 Q2.8,-3.8 -11.7,4.2 L-8.4,9.2 Q6.1,2.6 11.2,-10Z"/>
</g>
<g transform="translate(1150.5,486.5)" fill="#cd821e">
<path d="M-10.6,-10 Q-2.2,-3.8 12.6,3.9 L9.2,9.2 Q-5.6,2.6 -10.6,-10Z"/>
<path d="M11.2,-10 Q2.8,-3.8 -11.7,4.2 L-8.4,9.2 Q6.1,2.6 11.2,-10Z"/>
</g>
<g transform="translate(962.5,176.75)" fill="#cd821e">
<path d="M-10.6,-10 Q-2.2,-3.8 12.6,3.9 L9.2,9.2 Q-5.6,2.6 -10.6,-10Z"/>
<path d="M11.2,-10 Q2.8,-3.8 -11.7,4.2 L-8.4,9.2 Q6.1,2.6 11.2,-10Z"/>
</g>
<circle cx="102.5" cy="142.12" r="1.4" fill="#1d1a1b"/>
<circle cx="102.5" cy="147.47" r="1.4" fill="#1d1a1b"/>
<circle cx="102.5" cy="152.82" r="1.4" fill="#1d1a1b"/>
<circle cx="102.5" cy="158.18" r="1.4" fill="#1d1a1b"/>
<circle cx="102.5" cy="163.53" r="1.4" fill="#1d1a1b"/>
<circle cx="102.5" cy="168.88" r="1.4" fill="#1d1a1b"/>
<circle cx="102.5" cy="135.75" r="4.1" fill="#1d1a1b"/>
<circle cx="102.5" cy="175.25" r="4.1" fill="#1d1a1b"/>
<circle cx="176" cy="106.8" r="1.4" fill="#1d1a1b"/>
<circle cx="176" cy="112.15" r="1.4" fill="#1d1a1b"/>
<circle cx="176" cy="117.5" r="1.4" fill="#1d1a1b"/>
<circle cx="176" cy="122.85" r="1.4" fill="#1d1a1b"/>
<circle cx="176" cy="128.2" r="1.4" fill="#1d1a1b"/>
<circle cx="176" cy="98.75" r="4.1" fill="#1d1a1b"/>
<circle cx="176" cy="136.25" r="4.1" fill="#1d1a1b"/>
<circle cx="521.25" cy="106.67" r="1.4" fill="#1d1a1b"/>
<circle cx="521.25" cy="112.02" r="1.4" fill="#1d1a1b"/>
<circle cx="521.25" cy="117.38" r="1.4" fill="#1d1a1b"/>
<circle cx="521.25" cy="122.72" r="1.4" fill="#1d1a1b"/>
<circle cx="521.25" cy="128.07" r="1.4" fill="#1d1a1b"/>
<circle cx="521.25" cy="98.75" r="4.1" fill="#1d1a1b"/>
<circle cx="521.25" cy="136" r="4.1" fill="#1d1a1b"/>
<circle cx="760.25" cy="455.8" r="1.4" fill="#1d1a1b"/>
<circle cx="760.25" cy="461.15" r="1.4" fill="#1d1a1b"/>
<circle cx="760.25" cy="466.5" r="1.4" fill="#1d1a1b"/>
<circle cx="760.25" cy="471.85" r="1.4" fill="#1d1a1b"/>
<circle cx="760.25" cy="477.2" r="1.4" fill="#1d1a1b"/>
<circle cx="760.25" cy="448" r="4.1" fill="#1d1a1b"/>
<circle cx="760.25" cy="485" r="4.1" fill="#1d1a1b"/>
<circle cx="976.25" cy="455.8" r="1.4" fill="#1d1a1b"/>
<circle cx="976.25" cy="461.15" r="1.4" fill="#1d1a1b"/>
<circle cx="976.25" cy="466.5" r="1.4" fill="#1d1a1b"/>
<circle cx="976.25" cy="471.85" r="1.4" fill="#1d1a1b"/>
<circle cx="976.25" cy="477.2" r="1.4" fill="#1d1a1b"/>
<circle cx="976.25" cy="448" r="4.1" fill="#1d1a1b"/>
<circle cx="976.25" cy="485" r="4.1" fill="#1d1a1b"/>
<circle cx="1062.4" cy="455.8" r="1.4" fill="#1d1a1b"/>
<circle cx="1062.4" cy="461.15" r="1.4" fill="#1d1a1b"/>
<circle cx="1062.4" cy="466.5" r="1.4" fill="#1d1a1b"/>
<circle cx="1062.4" cy="471.85" r="1.4" fill="#1d1a1b"/>
<circle cx="1062.4" cy="477.2" r="1.4" fill="#1d1a1b"/>
<circle cx="1062.4" cy="448" r="4.1" fill="#1d1a1b"/>
<circle cx="1062.4" cy="485" r="4.1" fill="#1d1a1b"/>
<circle cx="1098" cy="732.67" r="1.4" fill="#1d1a1b"/>
<circle cx="1098" cy="738.02" r="1.4" fill="#1d1a1b"/>
<circle cx="1098" cy="743.38" r="1.4" fill="#1d1a1b"/>
<circle cx="1098" cy="748.72" r="1.4" fill="#1d1a1b"/>
<circle cx="1098" cy="754.07" r="1.4" fill="#1d1a1b"/>
<circle cx="1098" cy="724.75" r="4.1" fill="#1d1a1b"/>
<circle cx="1098" cy="762" r="4.1" fill="#1d1a1b"/>
<text class="c" transform="translate(70,105.8) scale(0.6,1)" font-size="21.4" textLength="161.82" lengthAdjust="spacing">Shalmaneser V</text>
<text class="c" transform="translate(110.75,182.8) scale(0.6,1)" font-size="21.4" textLength="195.29" lengthAdjust="spacing">Tiglath-pileser III</text>
<text class="c" transform="translate(224.25,144.05) scale(0.6,1)" font-size="21.4" textLength="99.83" lengthAdjust="spacing">Sargon II</text>
<text class="c" transform="translate(357,144.05) scale(0.6,1)" font-size="21.4" textLength="137.02" lengthAdjust="spacing">Sennacherib</text>
<text class="c" transform="translate(435,106.05) scale(0.6,1)" font-size="21.4" textLength="127.11" lengthAdjust="spacing">Esarhaddon</text>
<text class="c" transform="translate(660.5,144.05) scale(0.6,1)" font-size="21.4" textLength="143.64" lengthAdjust="spacing">Assurbanipal</text>
<text class="c" transform="translate(892.5,144.05) scale(0.6,1)" font-size="21.4" textLength="150.25" lengthAdjust="spacing">Nabopolassar</text>
<text class="c" transform="translate(1099,144.05) scale(0.6,1)" font-size="21.4" textLength="204.46" lengthAdjust="spacing">Nebuchadnezzar II</text>
<text class="c" transform="translate(978.6,181.9) scale(0.6,1)" font-size="21.4" textLength="376.36" lengthAdjust="spacing">Babylonians defeat Assyrians</text>
<text class="c h" transform="translate(364.5,67.25) scale(0.55,1)" font-size="21.8" textLength="228" lengthAdjust="spacing">ASSYRIAN KINGS</text>
<text class="c h" transform="translate(1020.5,67.25) scale(0.55,1)" font-size="21.8" textLength="263.64" lengthAdjust="spacing">BABYLONIAN KINGS</text>
<text class="c h" transform="translate(33.75,417.25) scale(0.55,1)" font-size="21.8" textLength="225.73" lengthAdjust="spacing">ISRAELITE KINGS</text>
<text class="c h" transform="translate(519.5,379.75) scale(0.55,1)" font-size="21.8" textLength="195.73" lengthAdjust="spacing">JUDEAN KINGS</text>
<text class="c" transform="translate(157.7,454.8) scale(0.6,1)" font-size="21.4" textLength="52.07" lengthAdjust="spacing">Ahaz</text>
<text class="c" transform="translate(322,455) scale(0.6,1)" font-size="21.4" textLength="98.18" lengthAdjust="spacing">Hezekiah</text>
<text class="c" transform="translate(128.4,493.3) scale(0.6,1)" font-size="21.4" textLength="79.01" lengthAdjust="spacing">Hoshea</text>
<text class="c" transform="translate(208.3,493.3) scale(0.6,1)" font-size="21.4" textLength="165.45" lengthAdjust="spacing">Fall of Samaria</text>
<text class="c" transform="translate(524.25,493.3) scale(0.6,1)" font-size="21.4" textLength="111.4" lengthAdjust="spacing">Manasseh</text>
<text class="c" transform="translate(714.25,455.3) scale(0.6,1)" font-size="21.4" textLength="59.34" lengthAdjust="spacing">Amon</text>
<text class="c" transform="translate(905,455.3) scale(0.6,1)" font-size="21.4" textLength="103.55" lengthAdjust="spacing">Jehoahaz</text>
<text class="c" transform="translate(850,493.3) scale(0.6,1)" font-size="21.4" textLength="72.56" lengthAdjust="spacing">Josiah</text>
<text class="c" transform="translate(1072,455.3) scale(0.6,1)" font-size="21.4" textLength="119.34" lengthAdjust="spacing">Jehoiachin</text>
<text class="c" transform="translate(986,493.3) scale(0.6,1)" font-size="21.4" textLength="112.23" lengthAdjust="spacing">Jehoiakim</text>
<text class="c" transform="translate(1076,493.3) scale(0.6,1)" font-size="21.4" textLength="99.5" lengthAdjust="spacing">Zedekiah</text>
<text class="c" transform="translate(1165.4,493.3) scale(0.6,1)" font-size="21.4" textLength="219.01" lengthAdjust="spacing">Fall of Jerusalem</text>
<text class="c h" transform="translate(203.3,731) scale(0.55,1)" font-size="21.8" textLength="459.27" lengthAdjust="spacing">DYNASTY XXV <tspan class="p" dy="-1.6">(</tspan><tspan dy="1.6">NUBIAN DYNASTY</tspan><tspan class="p" dy="-1.6">)</tspan></text>
<text class="c h" transform="translate(838.25,695.25) scale(0.55,1)" font-size="21.8" textLength="445.18" lengthAdjust="spacing">DYNASTY XXVI <tspan class="p" dy="-1.6">(</tspan><tspan dy="1.6">SAITE DYNASTY</tspan><tspan class="p" dy="-1.6">)</tspan></text>
<text class="c" transform="translate(256.6,769.05) scale(0.6,1)" font-size="21.4" textLength="93.39" lengthAdjust="spacing">Shabako</text>
<text class="c" transform="translate(348.75,769.3) scale(0.6,1)" font-size="21.4" textLength="96.53" lengthAdjust="spacing">Shebitku</text>
<text class="c" transform="translate(482.5,769.3) scale(0.6,1)" font-size="21.4" textLength="86.2" lengthAdjust="spacing">Taharqa</text>
<text class="c" transform="translate(733.25,769.3) scale(0.6,1)" font-size="21.4" textLength="175.04" lengthAdjust="spacing">Psammetichus I</text>
<text class="c" transform="translate(979.25,730.55) scale(0.6,1)" font-size="21.4" textLength="182.89" lengthAdjust="spacing">Psammetichus II</text>
<text class="c" transform="translate(1003.8,769.3) scale(0.6,1)" font-size="21.4" textLength="76.86" lengthAdjust="spacing">Neco II</text>
<text class="c" transform="translate(1166,769.3) scale(0.6,1)" font-size="21.4" textLength="70.91" lengthAdjust="spacing">Apries</text>
<text class="t" x="528" y="23" font-size="23.5" textLength="265.75" lengthAdjust="spacingAndGlyphs">ASSYRIA/BABYLON</text>
<text class="t" x="560.8" y="336" font-size="23.5" textLength="200.2" lengthAdjust="spacingAndGlyphs">ISRAEL/JUDAH</text>
<text class="t" x="618.2" y="649.7" font-size="23.5" textLength="86.1" lengthAdjust="spacingAndGlyphs">EGYPT</text>
<text class="yl" transform="translate(45.7,256.7) scale(0.88,1)" textLength="51.59" lengthAdjust="spacing">740 BC</text>
<text class="yl" transform="translate(115.56,256.7) scale(0.88,1)" textLength="51.59" lengthAdjust="spacing">730 BC</text>
<text class="yl" transform="translate(185.42,256.7) scale(0.88,1)" textLength="51.59" lengthAdjust="spacing">720 BC</text>
<text class="yl" transform="translate(255.28,256.7) scale(0.88,1)" textLength="51.59" lengthAdjust="spacing">710 BC</text>
<text class="yl" transform="translate(325.14,256.7) scale(0.88,1)" textLength="51.59" lengthAdjust="spacing">700 BC</text>
<text class="yl" transform="translate(395,256.7) scale(0.88,1)" textLength="51.59" lengthAdjust="spacing">690 BC</text>
<text class="yl" transform="translate(464.86,256.7) scale(0.88,1)" textLength="51.59" lengthAdjust="spacing">680 BC</text>
<text class="yl" transform="translate(534.72,256.7) scale(0.88,1)" textLength="51.59" lengthAdjust="spacing">670 BC</text>
<text class="yl" transform="translate(604.58,256.7) scale(0.88,1)" textLength="51.59" lengthAdjust="spacing">660 BC</text>
<text class="yl" transform="translate(674.44,256.7) scale(0.88,1)" textLength="51.59" lengthAdjust="spacing">650 BC</text>
<text class="yl" transform="translate(744.3,256.7) scale(0.88,1)" textLength="51.59" lengthAdjust="spacing">640 BC</text>
<text class="yl" transform="translate(814.16,256.7) scale(0.88,1)" textLength="51.59" lengthAdjust="spacing">630 BC</text>
<text class="yl" transform="translate(884.02,256.7) scale(0.88,1)" textLength="51.59" lengthAdjust="spacing">620 BC</text>
<text class="yl" transform="translate(953.88,256.7) scale(0.88,1)" textLength="51.59" lengthAdjust="spacing">610 BC</text>
<text class="yl" transform="translate(1023.74,256.7) scale(0.88,1)" textLength="51.59" lengthAdjust="spacing">600 BC</text>
<text class="yl" transform="translate(1093.6,256.7) scale(0.88,1)" textLength="51.59" lengthAdjust="spacing">590 BC</text>
<text class="yl" transform="translate(1163.46,256.7) scale(0.88,1)" textLength="51.59" lengthAdjust="spacing">580 BC</text>
<text class="yl" transform="translate(1233.32,256.7) scale(0.88,1)" textLength="51.59" lengthAdjust="spacing">570 BC</text>
<text class="yl" transform="translate(45.7,569.7) scale(0.88,1)" textLength="51.59" lengthAdjust="spacing">740 BC</text>
<text class="yl" transform="translate(115.56,569.7) scale(0.88,1)" textLength="51.59" lengthAdjust="spacing">730 BC</text>
<text class="yl" transform="translate(185.42,569.7) scale(0.88,1)" textLength="51.59" lengthAdjust="spacing">720 BC</text>
<text class="yl" transform="translate(255.28,569.7) scale(0.88,1)" textLength="51.59" lengthAdjust="spacing">710 BC</text>
<text class="yl" transform="translate(325.14,569.7) scale(0.88,1)" textLength="51.59" lengthAdjust="spacing">700 BC</text>
<text class="yl" transform="translate(395,569.7) scale(0.88,1)" textLength="51.59" lengthAdjust="spacing">690 BC</text>
<text class="yl" transform="translate(464.86,569.7) scale(0.88,1)" textLength="51.59" lengthAdjust="spacing">680 BC</text>
<text class="yl" transform="translate(534.72,569.7) scale(0.88,1)" textLength="51.59" lengthAdjust="spacing">670 BC</text>
<text class="yl" transform="translate(604.58,569.7) scale(0.88,1)" textLength="51.59" lengthAdjust="spacing">660 BC</text>
<text class="yl" transform="translate(674.44,569.7) scale(0.88,1)" textLength="51.59" lengthAdjust="spacing">650 BC</text>
<text class="yl" transform="translate(744.3,569.7) scale(0.88,1)" textLength="51.59" lengthAdjust="spacing">640 BC</text>
<text class="yl" transform="translate(814.16,569.7) scale(0.88,1)" textLength="51.59" lengthAdjust="spacing">630 BC</text>
<text class="yl" transform="translate(884.02,569.7) scale(0.88,1)" textLength="51.59" lengthAdjust="spacing">620 BC</text>
<text class="yl" transform="translate(953.88,569.7) scale(0.88,1)" textLength="51.59" lengthAdjust="spacing">610 BC</text>
<text class="yl" transform="translate(1023.74,569.7) scale(0.88,1)" textLength="51.59" lengthAdjust="spacing">600 BC</text>
<text class="yl" transform="translate(1093.6,569.7) scale(0.88,1)" textLength="51.59" lengthAdjust="spacing">590 BC</text>
<text class="yl" transform="translate(1163.46,569.7) scale(0.88,1)" textLength="51.59" lengthAdjust="spacing">580 BC</text>
<text class="yl" transform="translate(1233.32,569.7) scale(0.88,1)" textLength="51.59" lengthAdjust="spacing">570 BC</text>
<text class="yl" transform="translate(45.7,844.5) scale(0.88,1)" textLength="51.59" lengthAdjust="spacing">740 BC</text>
<text class="yl" transform="translate(115.56,844.5) scale(0.88,1)" textLength="51.59" lengthAdjust="spacing">730 BC</text>
<text class="yl" transform="translate(185.42,844.5) scale(0.88,1)" textLength="51.59" lengthAdjust="spacing">720 BC</text>
<text class="yl" transform="translate(255.28,844.5) scale(0.88,1)" textLength="51.59" lengthAdjust="spacing">710 BC</text>
<text class="yl" transform="translate(325.14,844.5) scale(0.88,1)" textLength="51.59" lengthAdjust="spacing">700 BC</text>
<text class="yl" transform="translate(395,844.5) scale(0.88,1)" textLength="51.59" lengthAdjust="spacing">690 BC</text>
<text class="yl" transform="translate(464.86,844.5) scale(0.88,1)" textLength="51.59" lengthAdjust="spacing">680 BC</text>
<text class="yl" transform="translate(534.72,844.5) scale(0.88,1)" textLength="51.59" lengthAdjust="spacing">670 BC</text>
<text class="yl" transform="translate(604.58,844.5) scale(0.88,1)" textLength="51.59" lengthAdjust="spacing">660 BC</text>
<text class="yl" transform="translate(674.44,844.5) scale(0.88,1)" textLength="51.59" lengthAdjust="spacing">650 BC</text>
<text class="yl" transform="translate(744.3,844.5) scale(0.88,1)" textLength="51.59" lengthAdjust="spacing">640 BC</text>
<text class="yl" transform="translate(814.16,844.5) scale(0.88,1)" textLength="51.59" lengthAdjust="spacing">630 BC</text>
<text class="yl" transform="translate(884.02,844.5) scale(0.88,1)" textLength="51.59" lengthAdjust="spacing">620 BC</text>
<text class="yl" transform="translate(953.88,844.5) scale(0.88,1)" textLength="51.59" lengthAdjust="spacing">610 BC</text>
<text class="yl" transform="translate(1023.74,844.5) scale(0.88,1)" textLength="51.59" lengthAdjust="spacing">600 BC</text>
<text class="yl" transform="translate(1093.6,844.5) scale(0.88,1)" textLength="51.59" lengthAdjust="spacing">590 BC</text>
<text class="yl" transform="translate(1163.46,844.5) scale(0.88,1)" textLength="51.59" lengthAdjust="spacing">580 BC</text>
<text class="yl" transform="translate(1233.32,844.5) scale(0.88,1)" textLength="51.59" lengthAdjust="spacing">570 BC</text>
</svg>
</body></html>
